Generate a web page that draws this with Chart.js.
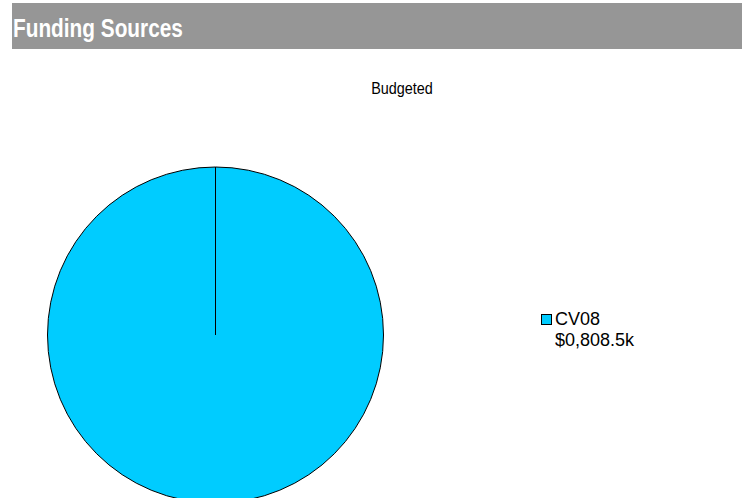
<!DOCTYPE html>
<html>
<head>
<meta charset="utf-8">
<script src="https://cdn.jsdelivr.net/npm/chart.js@4"></script>
<style>
  html, body { margin: 0; padding: 0; width: 742px; height: 498px; overflow: hidden; background: #fff; font-family: "Liberation Sans", Arial, sans-serif; }
  #header { position: absolute; left: 12px; top: 3px; width: 730px; height: 46px; background: #969696; }
  #header span { position: absolute; left: 1px; top: 10px; color: #fff; font-weight: bold; font-size: 26px; line-height: 30px; transform: scaleX(0.8); transform-origin: 0 0; white-space: nowrap; }
  #subtitle { position: absolute; left: 302px; width: 200px; top: 79px; text-align: center; font-size: 16px; line-height: 20px; color: #000; transform: scaleX(0.9); }
  #pieWrap { position: absolute; left: 47px; top: 166px; width: 337px; height: 338px; }
  #legend { position: absolute; left: 541px; top: 309px; font-size: 18px; line-height: 21px; color: #000; }
  .item { position: relative; padding-left: 14px; }
  .swatch { position: absolute; left: 0; top: 5px; width: 9px; height: 9px; border: 1px solid #000; }
</style>
</head>
<body>
<div id="header"><span>Funding Sources</span></div>
<div id="subtitle">Budgeted</div>
<div id="pieWrap"><canvas id="pie"></canvas></div>
<div id="legend"></div>
<script>
// Funding sources for the budgeted amount
const sourceNames = ['CV08'];
const sourceAmountLabels = ['$0,808.5k'];
const sourceAmounts = [808.5];
const sourceColors = ['#00CCFF'];

const chart = new Chart(document.getElementById('pie'), {
  type: 'pie',
  data: {
    labels: sourceNames,
    datasets: [{
      data: sourceAmounts,
      backgroundColor: sourceColors,
      borderColor: '#000000',
      borderWidth: 1
    }]
  },
  options: {
    responsive: true,
    maintainAspectRatio: false,
    animation: false,
    events: [],
    layout: { padding: 0 },
    plugins: {
      legend: { display: false },
      title: { display: false },
      tooltip: { enabled: false }
    }
  }
});

// Legend built from the chart's own legend items
const legendEl = document.getElementById('legend');
chart.options.plugins.legend.labels.generateLabels(chart).forEach((item, i) => {
  const row = document.createElement('div');
  row.className = 'item';
  const sw = document.createElement('span');
  sw.className = 'swatch';
  sw.style.background = item.fillStyle;
  row.appendChild(sw);
  const l1 = document.createElement('div');
  l1.textContent = item.text;
  const l2 = document.createElement('div');
  l2.textContent = sourceAmountLabels[i];
  row.appendChild(l1);
  row.appendChild(l2);
  legendEl.appendChild(row);
});
</script>
</body>
</html>
